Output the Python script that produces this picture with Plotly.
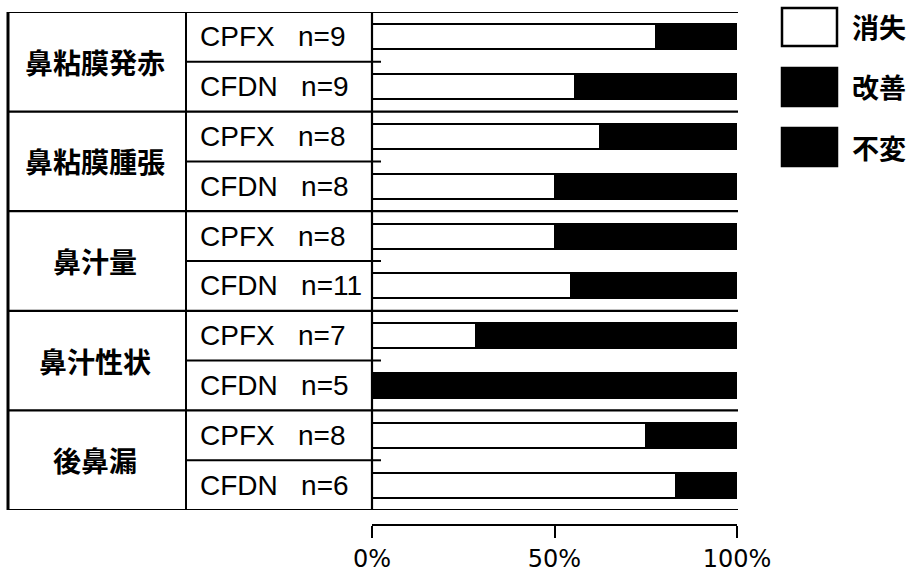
import plotly.graph_objects as go

W, H = 913, 572

# ---- data ----
groups = ['鼻粘膜発赤', '鼻粘膜腫張', '鼻汁量', '鼻汁性状', '後鼻漏']
drugs = ['CPFX', 'CFDN']
n_values = [9, 9, 8, 8, 8, 11, 7, 5, 8, 6]
resolved = [7, 5, 5, 4, 4, 6, 2, 0, 6, 5]      # 消失
improved = [1, 3, 2, 3, 3, 4, 4, 3, 1, 1]      # 改善 (estimated, not distinguishable)
unchanged = [1, 1, 1, 1, 1, 1, 1, 2, 1, 0]     # 不変 (estimated, not distinguishable)
series_names = ['消失', '改善', '不変']
series_colors = ['#ffffff', '#000000', '#000000']
tick_vals = [0, 0.5, 1]
tick_text = ['0%', '50%', '100%']

def px(x):
    return x / W

def py(y):
    return 1 - y / H

rows = list(range(len(n_values)))
row_y = [r + 0.5 for r in rows]
series = [resolved, improved, unchanged]

fig = go.Figure()
for name, vals, col in zip(series_names, series, series_colors):
    fig.add_trace(go.Bar(
        y=row_y, x=[v / n for v, n in zip(vals, n_values)],
        orientation='h', width=0.5, name=name,
        marker=dict(color=col, line=dict(color='black', width=2)),
        showlegend=False,
    ))

shapes = []
# group boundaries (table + bar area)
for g in range(len(groups) + 1):
    shapes.append(dict(type='line', xref='paper', yref='y',
                       x0=px(8), x1=px(738), y0=2 * g, y1=2 * g,
                       line=dict(color='black', width=2.2)))
# mid-group lines in drug column + small tick
for g in range(len(groups)):
    shapes.append(dict(type='line', xref='paper', yref='y',
                       x0=px(186), x1=px(381), y0=2 * g + 1, y1=2 * g + 1,
                       line=dict(color='black', width=2)))
# vertical table lines
for xv, lw in [(8, 3), (186, 2), (372, 2.2)]:
    shapes.append(dict(type='line', xref='paper', yref='y',
                       x0=px(xv), x1=px(xv), y0=0, y1=2 * len(groups),
                       line=dict(color='black', width=lw)))

annotations = []
for g, name in enumerate(groups):
    annotations.append(dict(xref='paper', yref='y', x=px(95), y=2 * g + 1,
                            text=name, showarrow=False, xanchor='center', yanchor='middle',
                            font=dict(family='Noto Sans CJK JP', size=28, color='black', weight=700)))
for r in rows:
    drug = drugs[r % 2]
    annotations.append(dict(xref='paper', yref='y', x=px(198), y=r + 0.5,
                            text=f'{drug}\u00a0\u00a0 n={n_values[r]}', showarrow=False,
                            xanchor='left', yanchor='middle',
                            font=dict(family='Liberation Sans, Arial', size=28, color='black')))

# legend
leg_tops = [8, 68, 128]
for name, col, top in zip(series_names, series_colors, leg_tops):
    shapes.append(dict(type='rect', xref='paper', yref='paper',
                       x0=px(782), x1=px(837), y0=py(top + 38), y1=py(top),
                       fillcolor=col, line=dict(color='black', width=2.5)))
    annotations.append(dict(xref='paper', yref='paper', x=px(850), y=py(top + 19),
                            text=name, showarrow=False, xanchor='left', yanchor='middle',
                            font=dict(family='Noto Sans CJK JP', size=27, color='black', weight=700)))

fig.update_layout(
    template='none',
    width=W, height=H, margin=dict(l=0, r=0, t=0, b=0, autoexpand=False),
    paper_bgcolor='white', plot_bgcolor='white',
    barmode='stack', bargap=0,
    shapes=shapes, annotations=annotations,
    xaxis=dict(domain=[px(372), px(737)], range=[0, 1], anchor='free', position=py(525),
               showline=True, linecolor='black', linewidth=2, automargin=False,
               ticks='outside', ticklen=12, tickwidth=2, tickcolor='black',
               tickvals=tick_vals, ticktext=tick_text,
               tickfont=dict(family='DejaVu Sans', size=24, color='black'),
               showgrid=False, zeroline=False, fixedrange=True),
    yaxis=dict(domain=[py(510), py(12)], range=[10, 0], showticklabels=False, automargin=False,
               showgrid=False, zeroline=False, showline=False, ticks='', fixedrange=True),
)

fig.write_html('out.html')
